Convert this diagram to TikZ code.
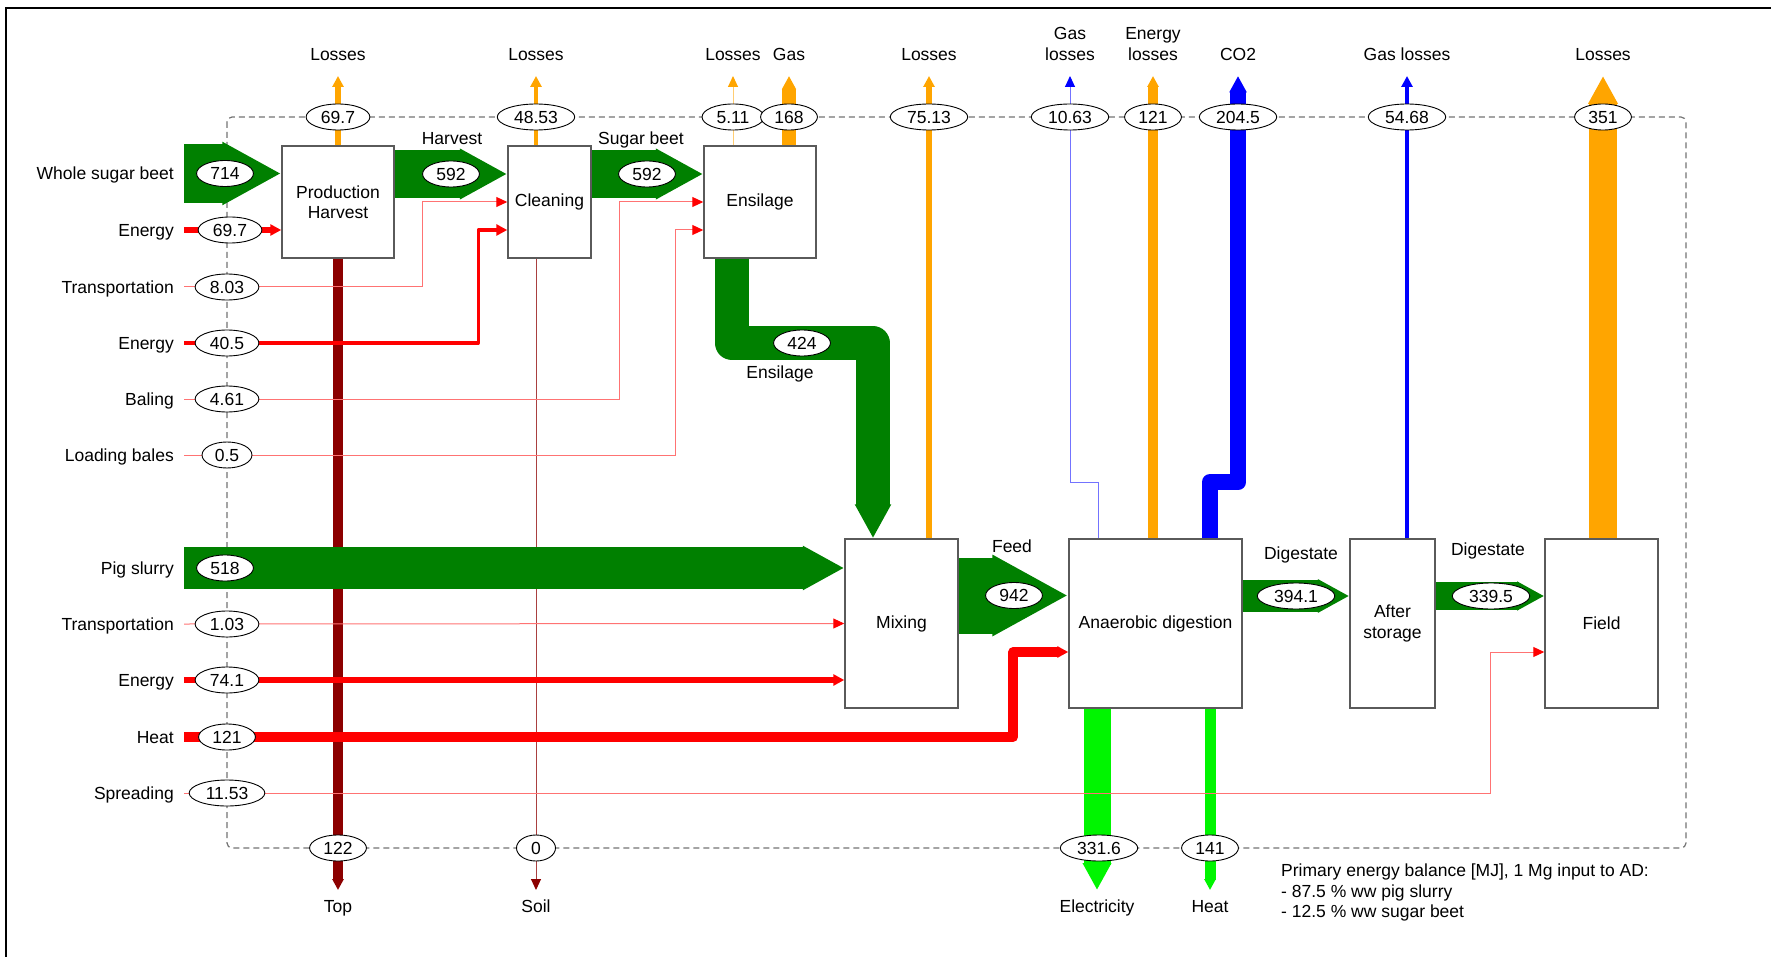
\documentclass[tikz,border=0pt]{standalone}
\usepackage{fontspec}
\setmainfont{Liberation Sans}
\usetikzlibrary{arrows.meta,positioning,shapes.geometric}
\definecolor{beetgreen}{RGB}{0,128,0}
\definecolor{powergreen}{RGB}{0,245,0}
\definecolor{lossorange}{RGB}{255,165,0}
\definecolor{gasblue}{RGB}{0,0,255}
\definecolor{energyred}{RGB}{255,0,0}
\definecolor{rootred}{RGB}{140,0,0}
\definecolor{boxgray}{RGB}{90,90,90}
\tikzset{
    procbox/.style={rectangle, draw=boxgray, line width=1.5pt, fill=white, align=center, inner sep=0pt},
    valnode/.style={ellipse, draw=black, line width=0.9pt, fill=white, inner xsep=5.5pt, inner ysep=1pt,
        minimum width=39pt, minimum height=26pt, text height=12.5pt, text depth=0pt},
    inlabel/.style={anchor=east, inner xsep=10pt, inner ysep=2pt, text height=12.5pt, text depth=0pt},
    toplabel/.style={align=center, inner sep=3pt, text depth=0pt},
    botlabel/.style={inner sep=3pt, text height=12.5pt, text depth=0pt},
    flowlabel/.style={inner sep=2pt, text height=12.5pt, text depth=0pt},
    bigflow/.style={line width=#1, line join=round, -{Triangle[length=0pt 1, width=0pt 1]}},
    flow/.style={line width=#1, line join=round, -{Triangle[length=11pt, width=11pt]}},
    thinflow/.style={line width=1pt, draw=#1!55, -{Triangle[length=11pt, width=10pt, color=#1]}},
    boundary/.style={draw=black!55, line width=1.2pt, dash pattern=on 6pt off 4pt, rounded corners=5pt},
}
\begin{document}
\begin{tikzpicture}[x=1pt, y=-1pt, font=\fontsize{17.5pt}{20.5pt}\selectfont]
    \useasboundingbox (0,0) rectangle (1771,957);

    % frame and system boundary
    \draw[line width=1.2pt] (6,957) |- (1771,8);
    \draw[boundary] (227,117) rectangle (1686,848);

    % process steps
    \node[procbox, minimum width=112pt, minimum height=112pt] (prod) at (338,202) {Production\\Harvest};
    \node[procbox, minimum width=83pt, minimum height=112pt] (clean) at (549.5,202) {Cleaning};
    \node[procbox, minimum width=112pt, minimum height=112pt] (ensil) at (760,202) {Ensilage};
    \node[procbox, minimum width=113pt, minimum height=169pt] (mix) at (901.5,623.5) {Mixing};
    \node[procbox, minimum width=173pt, minimum height=169pt] (ad) at (1155.5,623.5) {Anaerobic digestion};
    \node[procbox, minimum width=85pt, minimum height=169pt] (store) at (1392.5,623.5) {After\\storage};
    \node[procbox, minimum width=113pt, minimum height=169pt] (field) at (1601.5,623.5) {Field};

    % inputs
    \node[inlabel] (beet) at (184,173.5) {Whole sugar beet};
    \node[inlabel] (enA) at (184,230) {Energy};
    \node[inlabel] (trA) at (184,287) {Transportation};
    \node[inlabel] (enB) at (184,343) {Energy};
    \node[inlabel] (bal) at (184,399) {Baling};
    \node[inlabel] (load) at (184,455) {Loading bales};
    \node[inlabel] (pig) at (184,568) {Pig slurry};
    \node[inlabel] (trB) at (184,624) {Transportation};
    \node[inlabel] (enC) at (184,680) {Energy};
    \node[inlabel] (heatin) at (184,737) {Heat};
    \node[inlabel] (spread) at (184,793) {Spreading};

    % outputs
    \coordinate (tProd) at (338,76);
    \coordinate (tClean) at (536,76);
    \coordinate (tEnsA) at (733,76);
    \coordinate (tEnsB) at (789,76);
    \coordinate (tMix) at (929,76);
    \coordinate (tGasAD) at (1070,76);
    \coordinate (tEnAD) at (1153,76);
    \coordinate (tCO2) at (1238,76);
    \coordinate (tStore) at (1407,76);
    \coordinate (tField) at (1603,76);
    \coordinate (tTop) at (338,890);
    \coordinate (tSoil) at (536,890);
    \coordinate (tElec) at (1097,890);
    \coordinate (tHeat) at (1210,890);

    \node[toplabel, above=12.7pt of tProd] (lProd) {Losses};
    \node[toplabel, above=12.7pt of tClean] (lClean) {Losses};
    \node[toplabel, above=12.7pt of tEnsA] (lEnsA) {Losses};
    \node[toplabel, above=12.7pt of tEnsB] (lEnsB) {Gas};
    \node[toplabel, above=12.7pt of tMix] (lMix) {Losses};
    \node[toplabel, above=12.7pt of tGasAD] (lGasAD) {Gas\\losses};
    \node[toplabel, above=12.7pt of tEnAD] (lEnAD) {Energy\\losses};
    \node[toplabel, above=12.7pt of tCO2] (lCO2) {CO2};
    \node[toplabel, above=12.7pt of tStore] (lStore) {Gas losses};
    \node[toplabel, above=12.7pt of tField] (lField) {Losses};
    \node[botlabel, below=7pt of tTop] (lTop) {Top};
    \node[botlabel, below=7pt of tSoil] (lSoil) {Soil};
    \node[botlabel, below=7pt of tElec] (lElec) {Electricity};
    \node[botlabel, below=7pt of tHeat] (lHeat) {Heat};

    % flows leaving downwards
    \draw[flow=9.8pt, rootred] (prod.south) -- (tTop);
    \draw[thinflow=rootred, draw=rootred!75] ([xshift=-13.5pt]clean.south) -- (tSoil);
    \draw[bigflow=27pt, powergreen] ([xshift=-58.5pt]ad.south) -- (tElec);
    \draw[flow=11pt, powergreen] ([xshift=54.5pt]ad.south) -- (tHeat);

    % flows leaving upwards
    \draw[flow=5.6pt, lossorange] (prod.north) -- (tProd);
    \draw[flow=3.9pt, lossorange] ([xshift=-13.5pt]clean.north) -- (tClean);
    \draw[thinflow=lossorange] ([xshift=-27pt]ensil.north) -- (tEnsA);
    \draw[bigflow=13.4pt, lossorange] ([xshift=29pt]ensil.north) -- (tEnsB);
    \draw[flow=6pt, lossorange] ([xshift=27.5pt]mix.north) -- (tMix);
    \draw[thinflow=gasblue] ([xshift=-57.5pt]ad.north) -- ++(0,-56) -| (tGasAD);
    \draw[flow=9.7pt, lossorange] ([xshift=-2.5pt]ad.north) -- (tEnAD);
    \draw[bigflow=16.4pt, gasblue] ([xshift=54.5pt]ad.north) -- ++(0,-56) -| (tCO2);
    \draw[flow=4.4pt, gasblue] ([xshift=14.5pt]store.north) -- (tStore);
    \draw[bigflow=28pt, lossorange] ([xshift=1.5pt]field.north) -- (tField);

    % input flows
    \draw[bigflow=59pt, beetgreen] (beet.east) -- ([yshift=28.5pt]prod.west);
    \draw[flow=5.6pt, energyred] (enA.east) -- ([yshift=-28pt]prod.west);
    \draw[thinflow=energyred] (trA.east) -| ([xshift=-85pt]clean.west) -- (clean.west);
    \draw[flow=3.2pt, energyred] (enB.east) -| ([xshift=-29pt,yshift=-28pt]clean.west) -- ([yshift=-28pt]clean.west);
    \draw[thinflow=energyred] (bal.east) -| ([xshift=-84pt]ensil.west) -- (ensil.west);
    \draw[thinflow=energyred] (load.east) -| ([xshift=-28pt,yshift=-28pt]ensil.west) -- ([yshift=-28pt]ensil.west);
    \draw[bigflow=41.4pt, beetgreen] (pig.east) -- ([yshift=55.5pt]mix.west);
    \draw[thinflow=energyred] (trB.east) -- (mix.west);
    \draw[flow=5.9pt, energyred] (enC.east) -- ([yshift=-56.5pt]mix.west);
    \draw[flow=9.7pt, energyred] (heatin.east) -| ([xshift=-55pt,yshift=-28.5pt]ad.west) -- ([yshift=-28.5pt]ad.west);
    \draw[thinflow=energyred] (spread.east) -| ([xshift=-54pt,yshift=-28.5pt]field.west) -- ([yshift=-28.5pt]field.west);

    % main chain
    \draw[bigflow=47.4pt, beetgreen] ([yshift=28pt]prod.east) -- ([yshift=28pt]clean.west);
    \draw[bigflow=47.4pt, beetgreen] ([yshift=28pt]clean.east) -- ([yshift=28pt]ensil.west);
    \draw[bigflow=33.9pt, beetgreen] ([xshift=-28pt]ensil.south) -- ++(0,84.5) -| ([xshift=-28.5pt]mix.north);
    \draw[bigflow=76pt, beetgreen] ([yshift=28pt]mix.east) -- ([yshift=28pt]ad.west);
    \draw[bigflow=31.5pt, beetgreen] ([yshift=27.5pt]ad.east) -- ([yshift=27.5pt]store.west);
    \draw[bigflow=27.2pt, beetgreen] ([yshift=27.5pt]store.east) -- ([yshift=27.5pt]field.west);

    % values on the boundary
    \node[valnode] (vBeet) at (225,173.5) {714};
    \node[valnode] (vEnA) at (230,230) {69.7};
    \node[valnode] (vTrA) at (227,287) {8.03};
    \node[valnode] (vEnB) at (227,343) {40.5};
    \node[valnode] (vBal) at (227,399) {4.61};
    \node[valnode] (vLoad) at (227,455) {0.5};
    \node[valnode] (vPig) at (225,568) {518};
    \node[valnode] (vTrB) at (227,624) {1.03};
    \node[valnode] (vEnC) at (227,680) {74.1};
    \node[valnode] (vHeatIn) at (227,737) {121};
    \node[valnode] (vSpread) at (227,793) {11.53};
    \node[valnode] (vProd) at (338,117) {69.7};
    \node[valnode] (vClean) at (536,117) {48.53};
    \node[valnode] (vEnsA) at (733,117) {5.11};
    \node[valnode] (vEnsB) at (789,117) {168};
    \node[valnode] (vMix) at (929,117) {75.13};
    \node[valnode] (vGasAD) at (1070,117) {10.63};
    \node[valnode] (vEnAD) at (1153,117) {121};
    \node[valnode] (vCO2) at (1238,117) {204.5};
    \node[valnode] (vStore) at (1407,117) {54.68};
    \node[valnode] (vField) at (1603,117) {351};
    \node[valnode] (vTop) at (338,848) {122};
    \node[valnode] (vSoil) at (536,848) {0};
    \node[valnode] (vElec) at (1099,848) {331.6};
    \node[valnode] (vHeat) at (1210,848) {141};

    % values inside
    \node[valnode] (vHarv) at (451,174) {592};
    \node[valnode] (vSugar) at (647,174) {592};
    \node[valnode] (vSilage) at (802,343) {424};
    \node[valnode] (vFeed) at (1014,595.5) {942};
    \node[valnode] (vDigA) at (1296,596) {394.1};
    \node[valnode] (vDigB) at (1491,596) {339.5};

    \node[flowlabel] (fHarv) at (452,138) {Harvest};
    \node[flowlabel] (fSugar) at (641,138) {Sugar beet};
    \node[flowlabel] (fSilage) at (780,372) {Ensilage};
    \node[flowlabel] (fFeed) at (1012,546) {Feed};
    \node[flowlabel] (fDigA) at (1301,553) {Digestate};
    \node[flowlabel] (fDigB) at (1488,549) {Digestate};

    \node[anchor=north west, align=left, inner sep=0pt] (note) at (1281,864)
        {Primary energy balance [MJ], 1 Mg input to AD:\\- 87.5 \% ww pig slurry\\- 12.5 \% ww sugar beet};
\end{tikzpicture}
\end{document}
